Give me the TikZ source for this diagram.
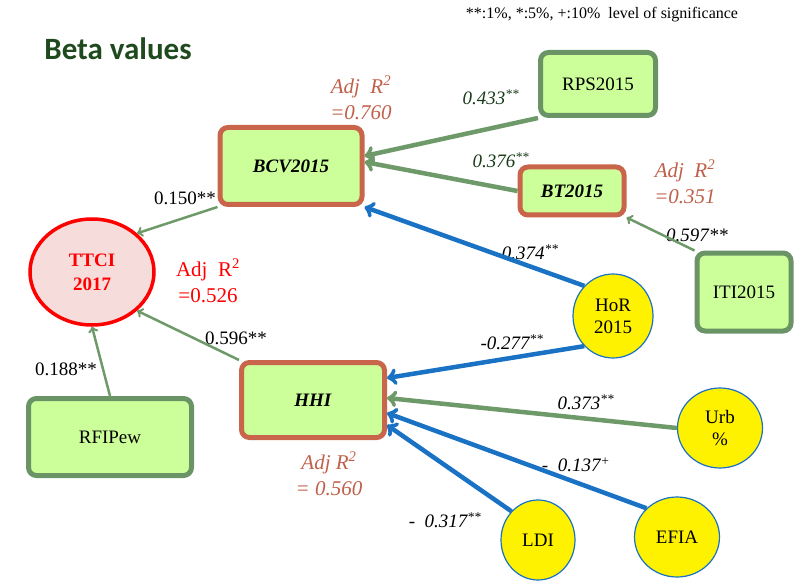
\documentclass[tikz,border=0pt]{standalone}
\usepackage{fontspec}
\setmainfont{Liberation Serif}
\newfontfamily\titlefont{Carlito}
\usetikzlibrary{shapes.geometric}
\definecolor{boxfill}{HTML}{CCFF99}
\definecolor{boxgreen}{HTML}{6A9466}
\definecolor{boxbrown}{HTML}{C8654A}
\definecolor{arrgreen}{HTML}{6E9A6A}
\definecolor{arrblue}{HTML}{1A72C4}
\definecolor{adjbrown}{HTML}{C0604A}
\definecolor{titlegreen}{HTML}{1E4A1E}
\definecolor{ttcifill}{HTML}{F7DCDC}

\begin{document}
\begin{tikzpicture}
[every node/.style={inner sep=0pt, font=\fontsize{19}{22}\selectfont},
 gbox/.style={rectangle, rounded corners=8pt, fill=boxfill, line width=5pt, draw=boxgreen},
 bbox/.style={rectangle, rounded corners=8pt, fill=boxfill, line width=5pt, draw=boxbrown},
 yell/.style={ellipse, fill=yellow, line width=1.2pt, draw=arrblue},
 thick/.style={line width=4.5pt, ->},
 thin/.style={line width=2.5pt, ->},
 coef/.style={font=\fontsize{19}{22}\selectfont\itshape},
 adj/.style={align=center, text=adjbrown, font=\fontsize{21}{26}\selectfont\itshape}]
\useasboundingbox (0pt, 0pt) rectangle (802pt, -585pt);
\node (title) at (118.0pt, -49.0pt) {\titlefont\fontsize{31}{34}\selectfont\bfseries\color{titlegreen}Beta values};
\node (sig) at (602.0pt, -15.0pt) {\fontsize{16}{18}\selectfont **:1\%, *:5\%, +:10\%\ \ level of significance};
\node (rps) [gbox, minimum width=115pt, minimum height=63pt] at (598.0pt, -84.0pt) {RPS2015};
\node (bcv) [bbox, minimum width=142pt, minimum height=77pt] at (291.0pt, -166.0pt) {\textit{\textbf{BCV2015}}};
\node (bt) [bbox, minimum width=104pt, minimum height=48pt] at (572.0pt, -191.0pt) {\textit{\textbf{BT2015}}};
\node (iti) [gbox, minimum width=94pt, minimum height=78pt] at (744.0pt, -292.0pt) {ITI2015};
\node (ttci) [ellipse, minimum width=124pt, minimum height=106pt, fill=ttcifill, line width=3.5pt, draw=red, align=center, text=red, font=\fontsize{19}{24}\selectfont\bfseries] at (92.0pt, -272.0pt) {TTCI\\2017};
\node (hor) [yell, minimum width=80pt, minimum height=84pt, align=center] at (613.0pt, -316.0pt) {HoR\\2015};
\node (hhi) [bbox, minimum width=143pt, minimum height=75pt] at (313.0pt, -400.0pt) {\textit{\textbf{HHI}}};
\node (rfip) [gbox, minimum width=163pt, minimum height=77pt] at (110.0pt, -437.0pt) {RFIPew};
\node (urb) [yell, minimum width=85pt, minimum height=80pt, align=center] at (720.0pt, -428.0pt) {Urb\\\%};
\node (ldi) [yell, minimum width=74pt, minimum height=80pt] at (538.0pt, -540.0pt) {LDI};
\node (efia) [yell, minimum width=85pt, minimum height=80pt] at (677.0pt, -537.0pt) {EFIA};
% fit statistics
\node (adjbcv) [adj] at (361.0pt, -98.0pt) {Adj\ \ R\textsuperscript{2}\\=0.760};
\node (adjbt) [adj] at (685.0pt, -182.0pt) {Adj\ \ R\textsuperscript{2}\\=0.351};
\node (adjttci) [align=center, text=red, font=\fontsize{21}{26}\selectfont] at (208.0pt, -281.0pt) {Adj\ \ R\textsuperscript{2}\\=0.526};
\node (adjhhi) [adj] at (329.0pt, -474.0pt) {Adj R\textsuperscript{2}\\= 0.560};
% coefficients
\node (c1) [coef, text=titlegreen!80!black] at (491.0pt, -97.0pt) {0.433\textsuperscript{**}};
\node (c2) [coef, text=titlegreen!80!black] at (501.0pt, -160.0pt) {0.376\textsuperscript{**}};
\node (c3) at (185.0pt, -198.0pt) {0.150**};
\node (c4) [coef] at (697.0pt, -235.0pt) {0.597**};
\node (c5) [coef] at (527.0pt, -252.0pt) {-0.374\textsuperscript{**}};
\node (c6) at (236.0pt, -338.0pt) {0.596**};
\node (c7) [coef] at (512.0pt, -342.0pt) {-0.277\textsuperscript{**}};
\node (c8) at (66.0pt, -369.0pt) {0.188**};
\node (c9) [coef] at (586.0pt, -402.0pt) {0.373\textsuperscript{**}};
\node (c10) [coef] at (576.0pt, -465.0pt) {-\ \ 0.137\textsuperscript{+}};
\node (c11) [coef] at (445.0pt, -520.0pt) {-\ \ 0.317\textsuperscript{**}};
% paths
\draw [thick, color=arrgreen] (rps.south west) to ([yshift=10pt]bcv.east);
\draw [thick, color=arrgreen] (bt.west) to ([yshift=4pt]bcv.east);
\draw [thin, color=arrgreen] (bcv.south west) to (ttci.north east);
\draw [thin, color=arrgreen] (iti.north west) to (bt.south east);
\draw [thick, color=arrblue] (hor.north west) to (bcv.south east);
\draw [thin, color=arrgreen] (hhi.north west) to (ttci.south east);
\draw [thin, color=arrgreen] (rfip.north) to (ttci.south);
\draw [thick, color=arrblue] (hor.south west) to ([yshift=22pt]hhi.east);
\draw [thick, color=arrgreen] (urb.west) to ([yshift=2pt]hhi.east);
\draw [thick, color=arrblue] (efia.north west) to ([yshift=-13pt]hhi.east);
\draw [thick, color=arrblue] (ldi.north west) to ([yshift=-25pt]hhi.east);
\end{tikzpicture}
\end{document}
